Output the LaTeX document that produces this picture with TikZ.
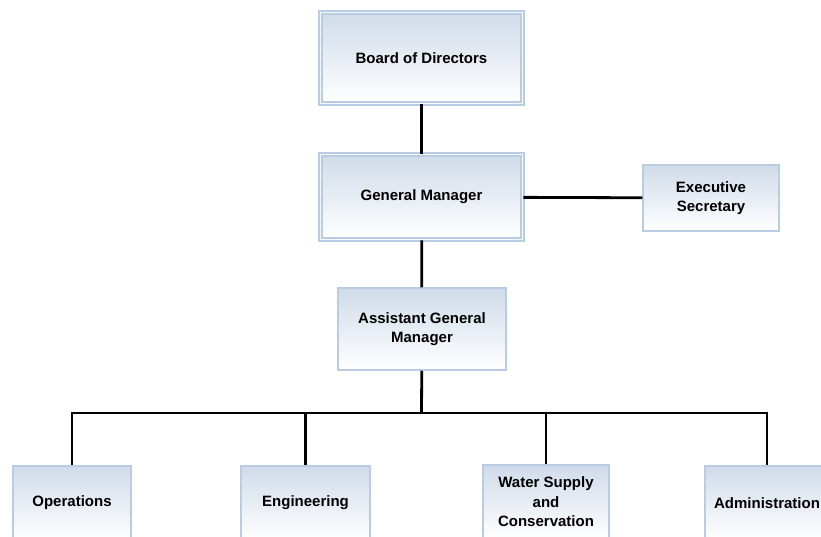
\documentclass[tikz,border=0pt]{standalone}
\usepackage{fontspec}
\setmainfont{Liberation Sans}
\usetikzlibrary{positioning}
\definecolor{boxline}{RGB}{184,204,228}
\definecolor{boxtop}{RGB}{208,219,233}

\begin{document}
\begin{tikzpicture}[x=1pt,y=-1pt,line width=2.8pt]
\tikzstyle{unit}=[draw=boxline,line width=1.5pt,top color=boxtop,bottom color=white,font=\fontsize{15}{19.5}\selectfont\bfseries,align=center,inner sep=2pt]
\tikzstyle{head}=[unit,double=white!85!boxline,double distance=1.2pt,line width=1.8pt,minimum width=202pt]
\tikzstyle{dept}=[unit,minimum height=74pt]
\useasboundingbox (0,0) rectangle (821,537);
% top of the chart
\node [head,minimum height=91pt] (board) at (421.5,58) {Board of Directors};
\node [head,minimum height=85pt] (gm) at (421.5,197) {General Manager};
\node [unit,minimum width=136pt,minimum height=66pt] (es) at (711,198) {Executive\\Secretary};
\node [unit,minimum width=168pt,minimum height=82pt] (agm) at (422,329) {Assistant General\\Manager};
% departments
\node [dept,minimum width=118pt] (ops) at (72,503) {Operations};
\node [dept,minimum width=129pt] (eng) at (305.5,503) {Engineering};
\node [dept,minimum width=126pt] (water) at (546,502) {Water Supply\\and\\Conservation};
\node [dept,minimum width=124pt] (admin) at (767,503) {Administration};
\coordinate (bus) at (421.5,413);
\draw (board) -- (gm);
\draw (gm) -- (es);
\draw (gm) -- (agm);
\draw (agm) -- (bus);
\draw (bus) -| (ops);
\draw (bus) -| (eng);
\draw (bus) -| (water);
\draw (bus) -| (admin);
\end{tikzpicture}
\end{document}
